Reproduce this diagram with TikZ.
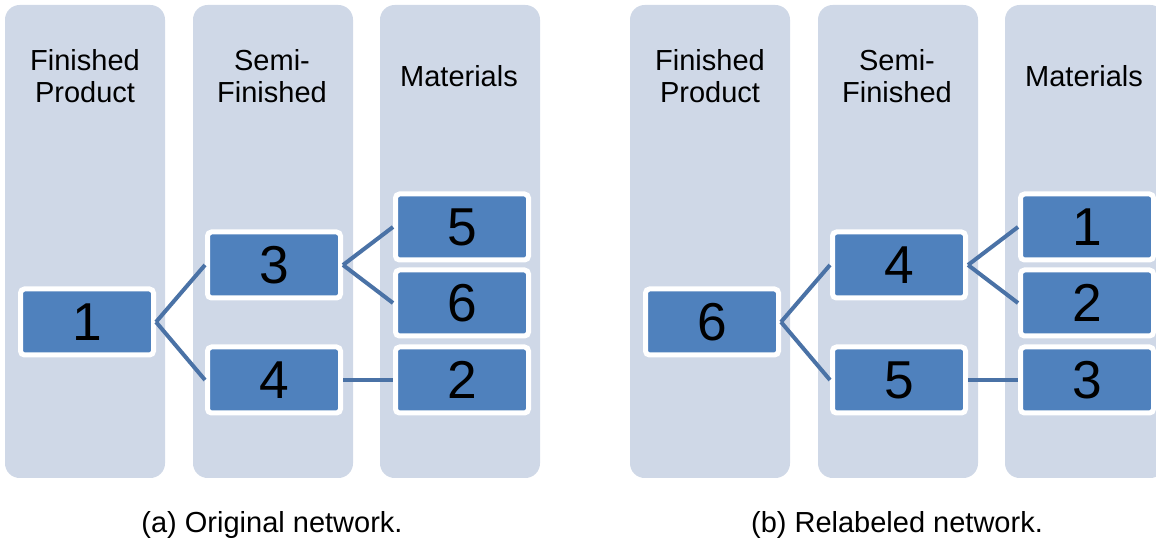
\documentclass[tikz,border=0pt]{standalone}
\usepackage{fontspec}
\setmainfont{Liberation Sans}
\definecolor{colbg}{HTML}{CFD8E7}
\definecolor{boxblue}{HTML}{4F81BD}
\definecolor{linkblue}{HTML}{4A72A6}
\tikzset{
    item/.style={fill=boxblue, draw=white, line width=3.75pt, rounded corners=3pt,
        minimum width=99.75pt, minimum height=49.5pt, inner sep=0pt,
        font=\fontsize{40}{40}\selectfont},
    head/.style={align=center, font=\fontsize{21.75}{24}\selectfont},
    link/.style={linkblue, line width=3pt},
}
\begin{document}
\begin{tikzpicture}[x=0.75pt, y=-0.75pt]
        \clip (0,0) rectangle (1156,548);

        % (a) Original network
        \begin{scope}
            \foreach \x in {5,193,380} {
                \fill[colbg, rounded corners=11pt] (\x,5) rectangle ++(160,473);
            }
            \node[head] (ha1) at (85,76) {Finished\\Product};
            \node[head] (ha2) at (272,76) {Semi-\\Finished};
            \node[head] (ha3) at (459,76) {Materials};

            \node[item] (a1) at (87,322) {1};
            \node[item] (a3) at (274,265) {3};
            \node[item] (a4) at (274,380) {4};
            \node[item] (a5) at (462,227) {5};
            \node[item] (a6) at (462,303) {6};
            \node[item] (a2) at (462,380) {2};

            \draw[link] (a1.east) -- (a3.west);
            \draw[link] (a1.east) -- (a4.west);
            \draw[link] (a3.east) -- (a5.west);
            \draw[link] (a3.east) -- (a6.west);
            \draw[link] (a4.east) -- (a2.west);

            \node[head] (capa) at (272,525) {(a) Original network.};
        \end{scope}

        % (b) Relabeled network
        \begin{scope}[xshift=468.75pt]
            \foreach \x in {5,193,380} {
                \fill[colbg, rounded corners=11pt] (\x,5) rectangle ++(160,473);
            }
            \node[head] (hb1) at (85,76) {Finished\\Product};
            \node[head] (hb2) at (272,76) {Semi-\\Finished};
            \node[head] (hb3) at (459,76) {Materials};

            \node[item] (b6) at (87,322) {6};
            \node[item] (b4) at (274,265) {4};
            \node[item] (b5) at (274,380) {5};
            \node[item] (b1) at (462,227) {1};
            \node[item] (b2) at (462,303) {2};
            \node[item] (b3) at (462,380) {3};

            \draw[link] (b6.east) -- (b4.west);
            \draw[link] (b6.east) -- (b5.west);
            \draw[link] (b4.east) -- (b1.west);
            \draw[link] (b4.east) -- (b2.west);
            \draw[link] (b5.east) -- (b3.west);

            \node[head] (capb) at (272,525) {(b) Relabeled network.};
        \end{scope}
\end{tikzpicture}
\end{document}
